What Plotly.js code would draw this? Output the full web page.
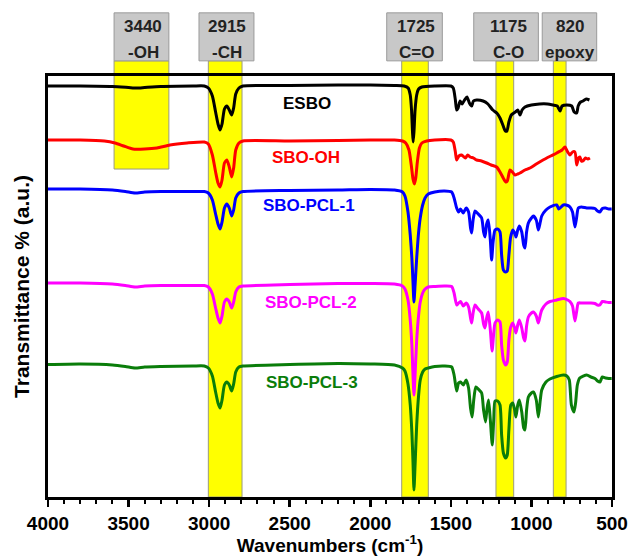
<!DOCTYPE html>
<html>
<head>
<meta charset="utf-8">
<script src="https://cdn.plot.ly/plotly-3.0.1.min.js"></script>
<style>html,body{margin:0;padding:0;background:#fff;}#chart{width:630px;height:556px;}</style>
</head>
<body>
<div id="chart"></div>
<script>
// ---------- DATA (y in arbitrary transmittance units) ----------
const seriesNames = ["ESBO", "SBO-OH", "SBO-PCL-1", "SBO-PCL-2", "SBO-PCL-3"];
const seriesColors = ["#000000", "#ff0000", "#0000ff", "#ff00ff", "#0a7d0a"];

const esboX = [4000,3800,3600,3500,3450,3400,3300,3100,3030,3005,2980,2960,2945,2932,2920,2905,2890,2875,2860,2848,2835,2815,2790,2500,2200,2000,1850,1790,1765,1752,1744,1738,1734,1729,1722,1712,1700,1680,1600,1500,1485,1472,1464,1455,1443,1430,1415,1400,1385,1371,1360,1340,1300,1270,1240,1215,1195,1175,1162,1152,1140,1125,1100,1085,1071,1058,1040,1000,950,900,866,840,822,810,780,750,735,719,710,695,680,660,640];
const esboY = [411,411,410.5,409.5,409,409.5,410.5,411,411,409,401,385,373,367,373,388,391,387,382,389,403,409,411,411.5,412,412,411.5,411,409,402,387,365,355,365,387,402,408,410,411,411,409,397,387,389,396,393,397,400,394,391,396,397,396,393,387,384,379,371,366,366,375,382,385,387,382,387,390,392,393,393,392,391,386,391,392,391,385,384,391,395,396,398,397];

const sboohX = [4000,3800,3650,3584,3530,3473,3400,3324,3243,3137,3030,3005,2980,2960,2945,2932,2920,2905,2890,2875,2860,2848,2835,2815,2790,2500,2200,2000,1850,1800,1780,1760,1745,1735,1726,1718,1708,1695,1680,1650,1600,1500,1485,1472,1464,1450,1433,1410,1395,1381,1360,1340,1310,1278,1250,1216,1195,1175,1160,1150,1133,1118,1102,1085,1071,1040,1009,970,928,880,843,810,792,775,761,745,730,719,708,699,690,680,665,650,637];
const sboohY = [357,357,356,354,351,348,348,349,352,354,355,353,342,325,314,310,317,334,337,330,320,329,347,354,356,356,356.5,357,357,356,354,347,331,318,313,319,335,349,354,356,357,357,355,345,337,341,342,339,342,340,339,337,336,334,332,330,325,319,315,316,327,325,322,323,324,327,329,333,337,341,344,347,350,345,342,345,345,332,339,340,336,336,339,338,339];

const pcl1X = [4000,3800,3600,3520,3460,3400,3300,3100,3030,3005,2980,2960,2945,2932,2920,2905,2890,2875,2860,2848,2835,2815,2790,2500,2200,2000,1850,1800,1785,1766,1752,1742,1735,1729,1722,1712,1700,1690,1675,1660,1640,1600,1540,1495,1480,1464,1452,1440,1423,1405,1390,1378,1371,1362,1350,1330,1309,1297,1288,1278,1268,1255,1247,1238,1226,1210,1195,1185,1174,1160,1150,1140,1130,1116,1104,1096,1085,1075,1060,1048,1040,1030,1019,1000,988,970,957,945,936,910,885,843,830,802,775,761,745,730,720,709,690,657,630,606,590,575,560,540,520,502];
const pcl1Y = [308,308,307,305.5,304,305,305.5,305.5,305.5,304,297,283,273,268,275,289,293,289,281,287,299,304,305.5,306.5,307,307.5,307,305,301,285,262,239,215,195,212,239,265,279,292,299,303,305,306,305,299,289,285,288,284,289,285,269,264,277,286,283,279,265,260,273,277,257,237,255,267,268,265,242,227,225,226,242,259,267,264,260,267,271,265,252,249,265,274,279,281,277,267,275,281,287,290,292,288,292,291.5,290,285,270,279,289,290,289,289,288.5,286,285,288.5,289,288,288];

const pcl2X = [4000,3800,3600,3520,3460,3400,3300,3100,3030,3005,2980,2960,2945,2932,2920,2905,2890,2875,2860,2848,2835,2815,2790,2500,2200,2000,1850,1800,1785,1766,1752,1742,1735,1729,1722,1712,1700,1690,1675,1660,1640,1600,1540,1495,1480,1464,1452,1440,1423,1405,1390,1378,1371,1362,1350,1330,1309,1297,1288,1278,1268,1255,1244,1235,1226,1210,1195,1185,1174,1160,1150,1140,1130,1116,1104,1096,1085,1075,1060,1048,1040,1030,1019,1000,988,970,957,945,936,910,885,843,802,775,761,745,730,720,709,690,657,630,606,590,575,560,540,520,502];
const pcl2Y = [214,214,213,211.5,210,211,211.5,211.5,211.5,210,203,189,179,174,181,195,198,195,189,195,205,210,211,212.5,213.5,213.5,213,211,208,197,177,152,122,102,122,157,182,195,204,208,210,210.5,211,210.5,204,192,194,195.5,191,194,190,179,174,184,192,188,184,173,169,179,185,167,146,162,174,177,175,152,137,132,135,157,169,174,169,164,172,177,169,159,156,171,180,184,185,181,174,182,187,193,195.5,197,198.5,197,195.5,191,176,185,194,194,194,194,193.5,192,192,195.5,195,194.5,194.5];

const pcl3X = [4000,3800,3600,3520,3460,3400,3300,3100,3030,3005,2980,2960,2945,2932,2920,2905,2890,2875,2860,2848,2835,2815,2790,2500,2200,2000,1850,1800,1785,1766,1752,1742,1735,1729,1722,1712,1700,1690,1675,1660,1640,1600,1540,1495,1480,1464,1452,1440,1423,1405,1390,1378,1368,1358,1345,1330,1309,1297,1285,1275,1266,1255,1243,1234,1226,1210,1195,1185,1174,1160,1150,1140,1128,1116,1104,1096,1085,1075,1060,1048,1040,1030,1019,1000,988,970,957,945,936,910,885,843,802,780,765,752,736,726,715,700,657,630,606,590,575,560,540,520,502];
const pcl3Y = [132.5,133,132,130.5,129,130,130.5,131,131,129,121,105,94,89,97,112,115,112,106,113,125,130,131,132.5,133.5,133,132,129,126,113,92,65,35,7,32,72,102,117,125,128,129,130.5,131,130,122,106,114,115,112,117,109,89,80,97,110,108,104,87,75,89,97,77,52,77,96,96,92,62,44,39,42,67,92,94,87,80,92,97,85,69,67,87,100,104,105,97,80,97,107,115,118,120.5,122,121,117,92,85,94,112,119,122,120,118.5,116,115,120,119,118.5,118.5];

const seriesX = [esboX, sboohX, pcl1X, pcl2X, pcl3X];
const seriesY = [esboY, sboohY, pcl1Y, pcl2Y, pcl3Y];

// curve labels (position in data units)
const labelX = [2393, 2399, 2380, 2365, 2359];
const labelY = [394, 340, 292, 195, 115];

// highlighted bands (wavenumber limits) and their captions
const bandLo = [3250, 2796, 1640, 1110, 785];
const bandHi = [3590, 3005, 1805, 1220, 864];
const bandBottom = [0.779, 0, 0, 0, 0];      // paper fraction where band ends
const boxLo = [3250, 2722, 1553, 957, 595];
const boxHi = [3590, 3063, 1898, 1358, 933];
const captionTop = ["3440", "2915", "1725", "1175", "820"];
const captionBottom = ["-OH", "-CH", "C=O", "C-O", "epoxy"];
const captionX = [3410, 2890, 1715, 1140, 760];

const xTickVals = [4000, 3500, 3000, 2500, 2000, 1500, 1000, 500];
const xTickText = ["4000", "3500", "3000", "2500", "2000", "1500", "1000", "500"];

// ---------- BUILD ----------
const FONT = "Liberation Sans, Arial, sans-serif";
const traces = [];
for (let i = seriesNames.length - 1; i >= 0; i--) {
  traces.push({
    type: "scatter", mode: "lines", name: seriesNames[i],
    x: seriesX[i], y: seriesY[i],
    line: {color: seriesColors[i], width: 3, shape: "spline", smoothing: 0.6},
    hoverinfo: "skip"
  });
}

const shapes = [];
const annotations = [];
for (let i = 0; i < bandLo.length; i++) {
  shapes.push({type: "rect", layer: "below", xref: "x", yref: "paper",
    x0: bandLo[i], x1: bandHi[i], y0: bandBottom[i], y1: 1.036,
    fillcolor: "#ffff00", line: {color: "#9a9a80", width: 1}});
  shapes.push({type: "rect", layer: "below", xref: "x", yref: "paper",
    x0: boxLo[i], x1: boxHi[i], y0: 1.036, y1: 1.150,
    fillcolor: "#c8c8c8", line: {color: "#9a9a9a", width: 1}});
  annotations.push({xref: "x", yref: "paper", x: captionX[i], y: 1.118, text: captionTop[i],
    xanchor: "center", yanchor: "middle",
    showarrow: false, font: {family: FONT, size: 17, color: "#222", weight: "bold"}});
  annotations.push({xref: "x", yref: "paper", x: captionX[i], y: 1.056, text: captionBottom[i],
    xanchor: "center", yanchor: "middle",
    showarrow: false, font: {family: FONT, size: 17, color: "#222", weight: "bold"}});
}
for (let i = 0; i < seriesNames.length; i++) {
  annotations.push({xref: "x", yref: "y", x: labelX[i], y: labelY[i], text: seriesNames[i],
    xanchor: "center", yanchor: "middle",
    showarrow: false, font: {family: FONT, size: 17, color: seriesColors[i], weight: "bold"}});
}

const layout = {
  width: 630, height: 556,
  margin: {l: 48, r: 18, t: 76, b: 59},
  paper_bgcolor: "#ffffff", plot_bgcolor: "rgba(0,0,0,0)",
  showlegend: false,
  font: {family: FONT, color: "#000"},
  xaxis: {
    range: [4000, 500], showgrid: false, zeroline: false,
    showline: true, linecolor: "#000", linewidth: 3, mirror: true,
    ticks: "outside", ticklen: 7, tickwidth: 2.5, tickcolor: "#000",
    tickvals: xTickVals, ticktext: xTickText,
    tickfont: {family: FONT, size: 19, color: "#000", weight: "bold"},
    minor: {dtick: 100, ticks: "outside", ticklen: 4, tickwidth: 2, tickcolor: "#000", showgrid: false},
    title: {text: "Wavenumbers (cm<sup>-1</sup>)", font: {family: FONT, size: 19, color: "#000", weight: "bold"}, standoff: 4},
    automargin: false
  },
  yaxis: {
    range: [0, 421], showgrid: false, zeroline: false,
    showline: true, linecolor: "#000", linewidth: 3, mirror: true,
    ticks: "", showticklabels: false,
    title: {text: "Transmittance % (a.u.)", font: {family: FONT, size: 21, color: "#000", weight: "bold"}, standoff: 10},
    automargin: false
  },
  shapes: shapes,
  annotations: annotations
};

Plotly.newPlot("chart", traces, layout, {staticPlot: true, displayModeBar: false});
</script>
</body>
</html>
